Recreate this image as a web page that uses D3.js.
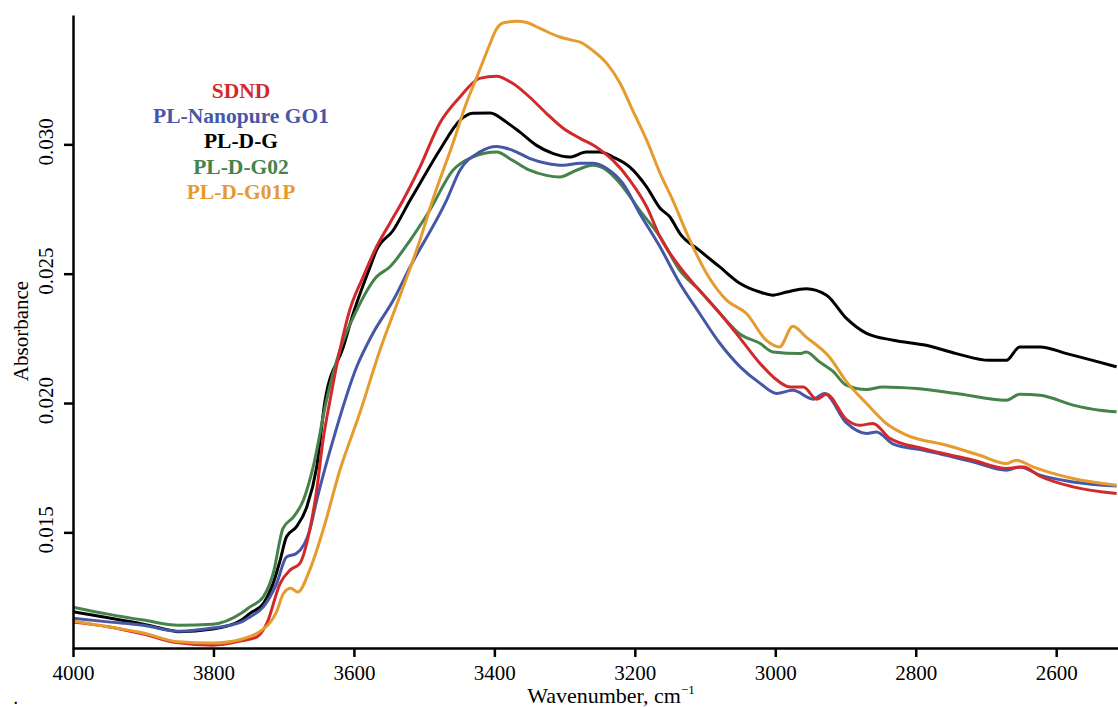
<!DOCTYPE html>
<html>
<head>
<meta charset="utf-8">
<script src="https://cdn.jsdelivr.net/npm/d3@7"></script>
<style>
  html, body { margin: 0; padding: 0; background: #fff; }
  svg { display: block; }
  text { font-family: "Liberation Serif", "Times New Roman", serif; }
</style>
</head>
<body>
<svg id="chart" width="1118" height="708"></svg>
<script>
// ---- Data: [wavenumber (cm^-1), absorbance] ----
const seriesNames = ["SDND", "PL-Nanopure GO1", "PL-D-G", "PL-D-G02", "PL-D-G01P"];
const seriesColors = ["#d22a2c", "#4657a7", "#000000", "#45834a", "#e69b2e"];

const sdnd = [[4000,0.01153],[3950,0.01135],[3900,0.01107],[3850,0.01073],[3801,0.01064],[3760,0.01081],[3738,0.01096],[3724,0.01148],[3705,0.01303],[3691,0.01354],[3677,0.01380],[3663,0.01508],[3653,0.01663],[3644,0.01856],[3634,0.02011],[3620,0.02204],[3606,0.02359],[3587,0.02487],[3568,0.02603],[3549,0.02694],[3530,0.02784],[3506,0.02912],[3478,0.03081],[3449,0.03183],[3421,0.03255],[3397,0.03263],[3374,0.03236],[3350,0.03183],[3326,0.03120],[3302,0.03062],[3278,0.03023],[3255,0.02990],[3231,0.02938],[3207,0.02861],[3183,0.02758],[3164,0.02642],[3136,0.02526],[3108,0.02436],[3079,0.02347],[3050,0.02250],[3022,0.02154],[3003,0.02101],[2979,0.02062],[2960,0.02062],[2941,0.02015],[2927,0.02034],[2899,0.01937],[2880,0.01914],[2861,0.01921],[2837,0.01864],[2790,0.01824],[2718,0.01779],[2671,0.01747],[2647,0.01753],[2623,0.01717],[2576,0.01676],[2514,0.01650]];

const nanopureGO1 = [[4000,0.01168],[3950,0.01154],[3900,0.01141],[3850,0.01118],[3801,0.01130],[3760,0.01154],[3748,0.01173],[3729,0.01212],[3710,0.01303],[3696,0.01405],[3682,0.01418],[3663,0.01508],[3653,0.01624],[3627,0.01882],[3596,0.02140],[3573,0.02269],[3544,0.02397],[3520,0.02526],[3468,0.02784],[3449,0.02900],[3421,0.02970],[3397,0.02992],[3374,0.02977],[3350,0.02946],[3326,0.02927],[3302,0.02919],[3278,0.02927],[3260,0.02927],[3240,0.02907],[3217,0.02849],[3193,0.02733],[3164,0.02603],[3136,0.02463],[3108,0.02347],[3079,0.02231],[3050,0.02140],[3022,0.02077],[2998,0.02037],[2975,0.02049],[2946,0.02015],[2930,0.02037],[2899,0.01924],[2870,0.01882],[2856,0.01888],[2832,0.01841],[2790,0.01818],[2718,0.01772],[2671,0.01740],[2652,0.01753],[2623,0.01721],[2576,0.01695],[2514,0.01679]];

const pldg = [[4000,0.01193],[3950,0.01170],[3900,0.01145],[3862,0.01122],[3850,0.01116],[3801,0.01126],[3760,0.01161],[3748,0.01187],[3729,0.01225],[3715,0.01303],[3705,0.01393],[3696,0.01483],[3682,0.01521],[3667,0.01599],[3653,0.01753],[3641,0.02011],[3615,0.02217],[3601,0.02346],[3577,0.02526],[3568,0.02590],[3544,0.02668],[3520,0.02784],[3506,0.02849],[3478,0.02977],[3449,0.03093],[3431,0.03120],[3406,0.03121],[3383,0.03086],[3364,0.03048],[3340,0.02996],[3317,0.02965],[3293,0.02951],[3269,0.02970],[3250,0.02970],[3231,0.02951],[3207,0.02912],[3183,0.02835],[3164,0.02753],[3150,0.02719],[3136,0.02656],[3108,0.02590],[3079,0.02526],[3050,0.02462],[3022,0.02429],[3003,0.02417],[2984,0.02429],[2956,0.02442],[2927,0.02417],[2899,0.02328],[2870,0.02269],[2832,0.02243],[2785,0.02223],[2742,0.02191],[2695,0.02165],[2671,0.02165],[2652,0.02217],[2623,0.02217],[2585,0.02191],[2548,0.02165],[2514,0.02140]];

const pldg02 = [[4000,0.01211],[3950,0.01184],[3900,0.01161],[3850,0.01141],[3801,0.01145],[3760,0.01188],[3748,0.01212],[3729,0.01251],[3715,0.01341],[3701,0.01515],[3686,0.01560],[3672,0.01624],[3658,0.01753],[3639,0.02011],[3620,0.02204],[3596,0.02359],[3568,0.02487],[3549,0.02526],[3520,0.02629],[3492,0.02745],[3459,0.02900],[3431,0.02951],[3397,0.02970],[3374,0.02938],[3350,0.02900],[3326,0.02880],[3307,0.02874],[3283,0.02900],[3260,0.02919],[3240,0.02900],[3221,0.02849],[3193,0.02745],[3164,0.02642],[3136,0.02513],[3108,0.02436],[3079,0.02347],[3050,0.02266],[3022,0.02231],[3003,0.02197],[2965,0.02191],[2956,0.02197],[2937,0.02159],[2918,0.02123],[2899,0.02069],[2870,0.02052],[2847,0.02062],[2799,0.02056],[2742,0.02037],[2671,0.02011],[2652,0.02034],[2623,0.02030],[2576,0.01992],[2538,0.01972],[2514,0.01966]];

const pldg01p = [[4000,0.01157],[3950,0.01135],[3900,0.01111],[3850,0.01077],[3801,0.01072],[3760,0.01087],[3740,0.01107],[3731,0.01122],[3720,0.01149],[3711,0.01188],[3700,0.01265],[3690,0.01284],[3680,0.01269],[3663,0.01354],[3644,0.01508],[3620,0.01740],[3591,0.01966],[3563,0.02204],[3535,0.02410],[3506,0.02629],[3488,0.02784],[3459,0.03004],[3441,0.03151],[3425,0.03260],[3406,0.03390],[3398,0.03441],[3388,0.03469],[3368,0.03476],[3354,0.03471],[3335,0.03448],[3307,0.03415],[3288,0.03402],[3278,0.03395],[3260,0.03363],[3240,0.03313],[3221,0.03236],[3203,0.03131],[3183,0.03015],[3164,0.02888],[3146,0.02784],[3126,0.02656],[3098,0.02502],[3069,0.02397],[3041,0.02346],[3013,0.02243],[2994,0.02217],[2975,0.02297],[2956,0.02255],[2923,0.02178],[2899,0.02084],[2870,0.01998],[2842,0.01921],[2813,0.01876],[2756,0.01837],[2709,0.01798],[2671,0.01766],[2657,0.01779],[2633,0.01753],[2576,0.01708],[2514,0.01682]];

const seriesData = [sdnd, nanopureGO1, pldg, pldg02, pldg01p];
const drawOrder = [2, 3, 1, 0, 4];

const xTicks = [4000, 3800, 3600, 3400, 3200, 3000, 2800, 2600];
const yTicks = [0.015, 0.020, 0.025, 0.030];

// ---- Layout ----
const svg = d3.select("#chart");
const plotLeft = 73, plotRight = 1118, plotTop = 15, plotBottom = 648;

const x = d3.scaleLinear().domain([4000, 2512]).range([plotLeft, plotRight]);
const y = d3.scaleLinear().domain([0.01053, 0.035]).range([plotBottom, plotTop]);

// Curves
const line = d3.line()
  .x(d => x(d[0]))
  .y(d => y(d[1]))
  .curve(d3.curveMonotoneX);

const gLines = svg.append("g");
drawOrder.forEach(i => {
  gLines.append("path")
    .datum(seriesData[i])
    .attr("fill", "none")
    .attr("stroke", seriesColors[i])
    .attr("stroke-width", 3)
    .attr("stroke-linejoin", "round")
    .attr("d", line);
});

// X axis
const gx = svg.append("g")
  .attr("transform", `translate(0,${plotBottom})`)
  .call(d3.axisBottom(x).tickValues(xTicks).tickFormat(d3.format("d")).tickSize(9).tickSizeOuter(0).tickPadding(8));
gx.select(".domain").attr("stroke", "#000").attr("stroke-width", 2.5);
gx.selectAll(".tick line").attr("stroke", "#000").attr("stroke-width", 2.5);
gx.selectAll(".tick text")
  .attr("fill", "#000")
  .style("font-family", '"Liberation Serif", "Times New Roman", serif')
  .style("font-size", "21px");

// Y axis
const gy = svg.append("g")
  .attr("transform", `translate(${plotLeft},0)`)
  .call(d3.axisLeft(y).tickValues(yTicks).tickFormat(d3.format(".3f")).tickSize(9).tickSizeOuter(0));
gy.select(".domain").attr("stroke", "#000").attr("stroke-width", 2.5);
gy.selectAll(".tick line").attr("stroke", "#000").attr("stroke-width", 2.5);
gy.selectAll(".tick text")
  .attr("fill", "#000")
  .attr("transform", "rotate(-90)")
  .attr("x", 3)
  .attr("y", -20)
  .attr("dy", 0)
  .attr("text-anchor", "middle")
  .style("font-family", '"Liberation Serif", "Times New Roman", serif')
  .style("font-size", "21px");

// Axis titles
svg.append("text")
  .attr("transform", "translate(28,331) rotate(-90)")
  .attr("text-anchor", "middle")
  .style("font-size", "21px")
  .attr("fill", "#000")
  .text("Absorbance");

const xt = svg.append("text")
  .attr("x", 611)
  .attr("y", 703)
  .attr("text-anchor", "middle")
  .style("font-size", "22px")
  .attr("fill", "#000");
xt.append("tspan").text("Wavenumber, cm");
xt.append("tspan").attr("dy", -9).style("font-size", "13px").text("\u22121");

// Legend
const legend = svg.append("g");
seriesNames.forEach((name, i) => {
  legend.append("text")
    .attr("x", 241)
    .attr("y", 98 + i * 25.2)
    .attr("text-anchor", "middle")
    .style("font-size", "21.5px")
    .style("font-weight", "bold")
    .attr("fill", seriesColors[i])
    .text(name);
});

// small mark at bottom-left
svg.append("text")
  .attr("x", 14)
  .attr("y", 704)
  .style("font-size", "14px")
  .style("font-weight", "bold")
  .attr("fill", "#000")
  .text(".");
</script>
</body>
</html>
